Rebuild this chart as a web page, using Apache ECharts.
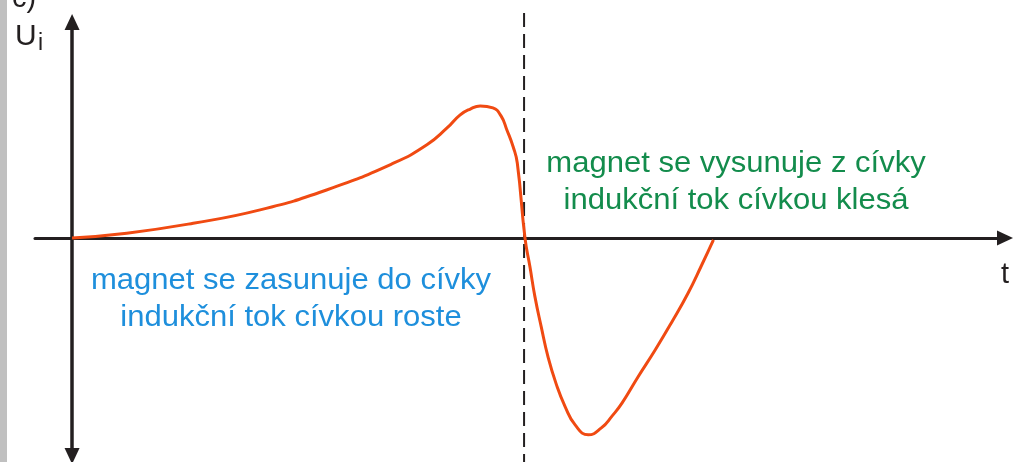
<!DOCTYPE html>
<html>
<head>
<meta charset="utf-8">
<script src="https://cdn.jsdelivr.net/npm/echarts@6/dist/echarts.min.js"></script>
<style>
  html, body { margin: 0; padding: 0; background: #fff; }
  #chart { width: 1014px; height: 462px; }
</style>
</head>
<body>
<div id="chart"></div>
<script>
// time (arbitrary units, 100 = magnet turns back) and induced voltage
const timeValues = [0, 12.1, 26.8, 41.6, 56.3, 71.1, 78.5, 82.9, 85.8, 88.1, 90.3, 93.1, 94.9, 96.2, 97.6, 98.5, 100.2,
  101.3, 102.4, 103.8, 105.3, 107.1, 109.1, 111.3, 114.2, 117.1, 119.5, 121.7, 125.2, 129, 132.7, 136.3, 139.2, 141.9]
const voltageValues = [0, 2.2, 6.8, 13, 22.2, 34.6, 43.1, 50.8, 56.9, 59.7, 61.1, 60.2, 56.5, 50, 42.1, 34.7, 0,
  -13.4, -27.2, -41.2, -55.1, -67.6, -78.2, -86.6, -91.2, -88, -82.4, -76.4, -64.4, -51.9, -38.9, -25.5, -13, -0.9]
const turnTime = 100

const textIn = ['magnet se zasunuje do cívky', 'indukční tok cívkou roste']
const textOut = ['magnet se vysunuje z cívky', 'indukční tok cívkou klesá']

const axisColor = '#231f20'
const fontFamily = '"Liberation Sans", Arial, sans-serif'

const chart = echarts.init(document.getElementById('chart'))

chart.setOption({
  animation: false,
  backgroundColor: '#fff',
  grid: [
    { left: 35, right: 9, top: 22, bottom: 6 },
    { left: 35, right: 9, top: 13, bottom: 0 }
  ],
  xAxis: [
    {
      type: 'value',
      gridIndex: 0,
      min: -8.2,
      max: 206.4,
      axisLine: {
        onZero: true,
        lineStyle: { color: axisColor, width: 3 },
        symbol: ['none', 'triangle'],
        symbolSize: [15, 16]
      },
      axisTick: { show: false },
      axisLabel: { show: false },
      splitLine: { show: false }
    },
    {
      type: 'value',
      gridIndex: 1,
      min: -8.2,
      max: 206.4,
      show: false
    }
  ],
  yAxis: [
    {
      type: 'value',
      gridIndex: 0,
      min: -101,
      max: 100,
      axisLine: {
        onZero: true,
        lineStyle: { color: axisColor, width: 3.5 },
        symbol: ['triangle', 'triangle'],
        symbolSize: [15, 16]
      },
      axisTick: { show: false },
      axisLabel: { show: false },
      splitLine: { show: false }
    },
    {
      type: 'value',
      gridIndex: 1,
      min: 0,
      max: 1,
      show: false
    }
  ],
  series: [
    {
      type: 'line',
      xAxisIndex: 0,
      yAxisIndex: 0,
      data: timeValues.map((t, i) => [t, voltageValues[i]]),
      smooth: 0.5,
      showSymbol: false,
      lineStyle: { color: '#f04a12', width: 3 },
      z: 5
    },
    {
      // dashed divider at the turning point
      type: 'line',
      xAxisIndex: 1,
      yAxisIndex: 1,
      data: [[turnTime, 1], [turnTime, 0]],
      showSymbol: false,
      lineStyle: { color: axisColor, width: 2, type: [14, 7] },
      z: 3
    }
  ],
  graphic: [
    {
      type: 'rect',
      shape: { x: 0, y: 0, width: 7, height: 462 },
      style: { fill: '#c0c0c0' }
    },
    {
      type: 'text',
      x: 12,
      y: 13,
      style: { text: 'c)', font: '29px ' + fontFamily, fill: axisColor, verticalAlign: 'bottom' }
    },
    {
      type: 'text',
      x: 15,
      y: 52,
      style: { text: 'U', font: '30px ' + fontFamily, fill: axisColor, verticalAlign: 'bottom' }
    },
    {
      type: 'text',
      x: 38,
      y: 55,
      style: { text: 'i', font: '23px ' + fontFamily, fill: axisColor, verticalAlign: 'bottom' }
    },
    {
      type: 'text',
      x: 1001,
      y: 289,
      style: { text: 't', font: '29px ' + fontFamily, fill: axisColor, verticalAlign: 'bottom' }
    },
    {
      type: 'text',
      x: 291,
      y: 299,
      scaleX: 1.07,
      style: {
        text: textIn.join('\n'),
        font: '29px ' + fontFamily,
        lineHeight: 37,
        fill: '#1e8fdc',
        align: 'center',
        verticalAlign: 'middle'
      }
    },
    {
      type: 'text',
      x: 736,
      y: 182,
      scaleX: 1.07,
      style: {
        text: textOut.join('\n'),
        font: '29px ' + fontFamily,
        lineHeight: 37,
        fill: '#138c4c',
        align: 'center',
        verticalAlign: 'middle'
      }
    }
  ]
})
</script>
</body>
</html>
